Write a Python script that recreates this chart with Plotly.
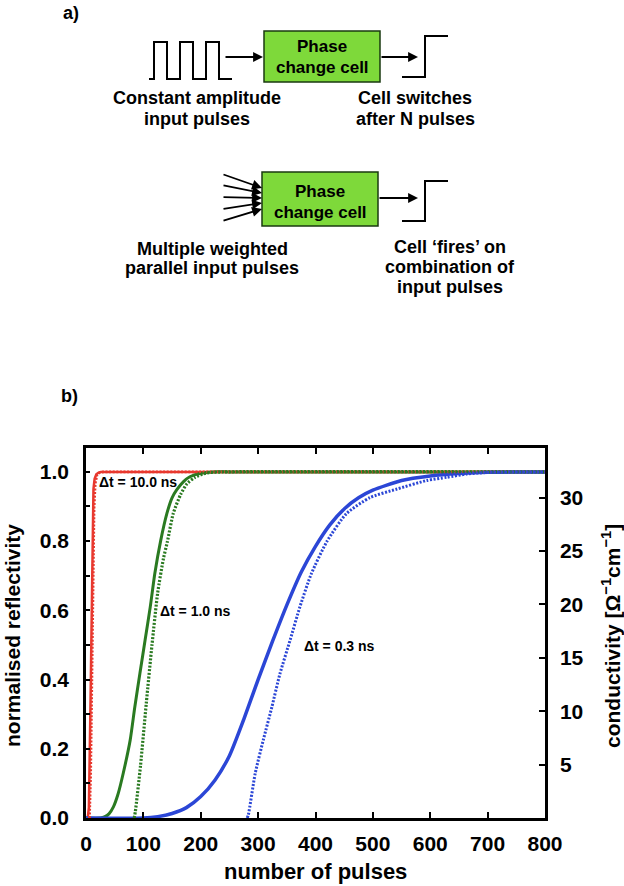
import plotly.graph_objects as go

# ---------------- data ----------------
pulses_red_solid = [0, 3, 5, 6.5, 8, 9.3, 10.5, 11.6, 13, 15, 18, 22, 26, 800]
refl_red_solid = [0, 0, 0.03, 0.15, 0.35, 0.51, 0.7, 0.88, 0.95, 0.98, 0.993, 0.998, 1.0, 1.0]

pulses_red_dot = [6, 8, 9.5, 11, 12.5, 14, 16, 19, 24, 30, 800]
cond_red_dot = [0, 4, 10, 17, 24, 29, 31.3, 32.1, 32.35, 32.4, 32.4]

pulses_green_solid = [0, 25, 32, 40, 48, 56, 65, 77, 85, 94, 103, 112, 120, 130, 141,
                      150, 158, 170, 181, 200, 222, 250, 800]
refl_green_solid = [0, 0, 0.003, 0.012, 0.033, 0.07, 0.13, 0.225, 0.32, 0.418, 0.514,
                    0.61, 0.707, 0.80, 0.88, 0.925, 0.948, 0.972, 0.986, 0.996, 1.0, 1.0, 1.0]

pulses_green_dot = [84, 86, 95, 105, 115, 125, 135, 142, 152, 165, 176, 190, 210, 240, 800]
cond_green_dot = [0, 0.6, 4.9, 10.7, 16.2, 21.1, 24.3, 25.9, 28.5, 30.3, 31.3, 31.9,
                  32.3, 32.4, 32.4]

pulses_blue_solid = [0, 100, 125, 150, 175, 200, 225, 250, 275, 300, 325, 350, 375, 400,
                     425, 450, 475, 500, 550, 600, 650, 700, 750, 800]
refl_blue_solid = [0, 0, 0.004, 0.013, 0.03, 0.062, 0.11, 0.18, 0.285, 0.4, 0.51, 0.615,
                   0.71, 0.785, 0.847, 0.893, 0.925, 0.947, 0.975, 0.988, 0.995, 0.999,
                   1.0, 1.0]

pulses_blue_dot = [281, 283, 295, 309, 324, 338, 356, 373, 393, 420, 454, 495, 542, 594,
                   629, 663, 700, 800]
cond_blue_dot = [0, 0.3, 4.2, 7.3, 10.4, 13.5, 16.7, 19.8, 22.9, 25.9, 28.5, 30.0, 30.8,
                 31.6, 31.9, 32.2, 32.35, 32.4]

x_ticks = [0, 100, 200, 300, 400, 500, 600, 700, 800]
y_ticks = [0.0, 0.2, 0.4, 0.6, 0.8, 1.0]
y2_ticks = [5, 10, 15, 20, 25, 30]

labels = ["Δt = 10.0 ns", "Δt = 1.0 ns", "Δt = 0.3 ns"]

RED = "#e8392f"
GREEN = "#2a7a21"
BLUE = "#2b46d6"
BOX = "#7ed93a"

W, H = 624, 886
FONT = "Liberation Sans, Arial, sans-serif"


def X(px):
    return px / W


def Y(py):
    return 1 - py / H


fig = go.Figure()

DOT = "2px,1.6px"
fig.add_trace(go.Scatter(x=pulses_red_solid, y=refl_red_solid, mode="lines",
                         line=dict(color=RED, width=2.5, shape="linear")))
fig.add_trace(go.Scatter(x=pulses_red_dot, y=cond_red_dot, mode="lines", yaxis="y2",
                         line=dict(color=RED, width=2.8, dash=DOT, shape="linear")))
fig.add_trace(go.Scatter(x=pulses_green_solid, y=refl_green_solid, mode="lines",
                         line=dict(color=GREEN, width=3, shape="spline", smoothing=0.6)))
fig.add_trace(go.Scatter(x=pulses_green_dot, y=cond_green_dot, mode="lines", yaxis="y2",
                         line=dict(color=GREEN, width=3.2, dash=DOT, shape="spline",
                                   smoothing=0.6)))
fig.add_trace(go.Scatter(x=pulses_blue_solid, y=refl_blue_solid, mode="lines",
                         line=dict(color=BLUE, width=3.5, shape="spline", smoothing=0.6)))
fig.add_trace(go.Scatter(x=pulses_blue_dot, y=cond_blue_dot, mode="lines", yaxis="y2",
                         line=dict(color=BLUE, width=3.0, dash=DOT, shape="spline",
                                   smoothing=0.6)))

tickfont = dict(family=FONT, size=21, color="black", weight="bold")

fig.update_layout(
    width=W, height=H,
    template="none",
    paper_bgcolor="white", plot_bgcolor="white",
    margin=dict(l=0, r=0, t=0, b=0),
    showlegend=False,
    xaxis=dict(domain=[X(86), X(545)], range=[0, 800], tickvals=x_ticks,
               ticks="inside", ticklen=6, tickwidth=2, tickcolor="black",
               showline=True, linewidth=2.5, linecolor="black", mirror="ticks",
               showgrid=False, zeroline=False, tickfont=tickfont,
               ticklabelstandoff=5, automargin=False),
    yaxis=dict(domain=[Y(818), Y(448)], range=[0, 1.069], tickvals=y_ticks,
               tickformat=".1f", ticks="inside", ticklen=4, tickwidth=2,
               tickcolor="black", minor=dict(dtick=0.1, ticks="inside", ticklen=4,
                                             tickwidth=2, tickcolor="black"),
               showline=True, linewidth=2.5, linecolor="black", mirror=False,
               showgrid=False, zeroline=False, tickfont=tickfont,
               ticklabelstandoff=10, automargin=False),
    yaxis2=dict(domain=[Y(818), Y(448)], range=[0, 34.64], tickvals=y2_ticks,
                overlaying="y", side="right", anchor="x",
                ticks="inside", ticklen=6, tickwidth=2, tickcolor="black",
                showline=True, linewidth=2.5, linecolor="black",
                showgrid=False, zeroline=False, tickfont=tickfont,
                ticklabelstandoff=8, automargin=False),
)

shapes = []
annos = []


def path(points):
    s = "M " + " L ".join(f"{X(a):.5f},{Y(b):.5f}" for a, b in points)
    return s


def line_shape(points, width=2):
    shapes.append(dict(type="path", xref="paper", yref="paper", path=path(points),
                       line=dict(color="black", width=width)))


def text(px, py, s, size=18, anchor="center"):
    annos.append(dict(x=X(px), y=Y(py), xref="paper", yref="paper", text=s,
                      showarrow=False, xanchor=anchor, yanchor="middle",
                      font=dict(family=FONT, size=size, color="black", weight="bold")))


def arrow(x0, y0, x1, y1):
    annos.append(dict(x=X(x1), y=Y(y1), xref="paper", yref="paper", text="",
                      showarrow=True, ax=x0 - x1, ay=y0 - y1, axref="pixel", ayref="pixel",
                      arrowhead=2, arrowsize=1.1, arrowwidth=1.8, arrowcolor="black",
                      standoff=0, startstandoff=0))


# ----- panel a) -----
text(71, 13, "a)", size=18)

# pulse train
line_shape([(149, 79), (154, 79), (154, 42), (167, 42), (167, 79), (180, 79), (180, 42),
            (193, 42), (193, 79), (206, 79), (206, 42), (219, 42), (219, 79), (232, 79)])
arrow(224, 57, 263, 57)
shapes.append(dict(type="rect", xref="paper", yref="paper", x0=X(264), x1=X(380),
                   y0=Y(82), y1=Y(31), fillcolor=BOX, line=dict(color="#1a3a10", width=1.5)))
text(322, 46, "Phase", size=17)
text(322, 68, "change cell", size=17)
arrow(380, 57, 418, 57)
line_shape([(402, 77), (425, 77), (425, 36), (448, 36)])
text(197, 98, "Constant amplitude")
text(197, 119, "input pulses")
text(415, 98, "Cell switches")
text(415, 119, "after N pulses")

# second row
for ys, ye in [(174, 188), (185, 193), (197, 198), (209, 203), (221, 209)]:
    arrow(222, ys, 262, ye)
shapes.append(dict(type="rect", xref="paper", yref="paper", x0=X(262), x1=X(378),
                   y0=Y(226), y1=Y(172), fillcolor=BOX, line=dict(color="#1a3a10", width=1.5)))
text(320, 191, "Phase", size=17)
text(320, 212, "change cell", size=17)
arrow(378, 198, 418, 198)
line_shape([(402, 221), (425, 221), (425, 181), (448, 181)])
text(212, 249, "Multiple weighted")
text(212, 268, "parallel input pulses")
text(450, 247, "Cell ‘fires’ on")
text(450, 267, "combination of")
text(450, 287, "input pulses")

# ----- panel b) -----
text(69, 396, "b)", size=18)

# axis titles
text(315, 871, "number of pulses", size=22)
annos.append(dict(x=X(12), y=Y(636), xref="paper", yref="paper",
                  text="normalised reflectivity", showarrow=False, textangle=-90,
                  xanchor="center", yanchor="middle",
                  font=dict(family=FONT, size=21, color="black", weight="bold")))
annos.append(dict(x=X(611), y=Y(636), xref="paper", yref="paper",
                  text="conductivity [Ω<sup>−1</sup>cm<sup>−1</sup>]", showarrow=False,
                  textangle=-90, xanchor="center", yanchor="middle",
                  font=dict(family=FONT, size=21, color="black", weight="bold")))

# curve labels
text(97, 482, labels[0], size=14, anchor="left")
text(158, 611, labels[1], size=14, anchor="left")
text(302, 646, labels[2], size=14, anchor="left")

fig.update_layout(shapes=shapes, annotations=annos)

fig.write_html("out.html", config={"displayModeBar": False},
               post_script="document.body.style.margin='0px';"
                           "document.body.style.overflow='hidden';")
